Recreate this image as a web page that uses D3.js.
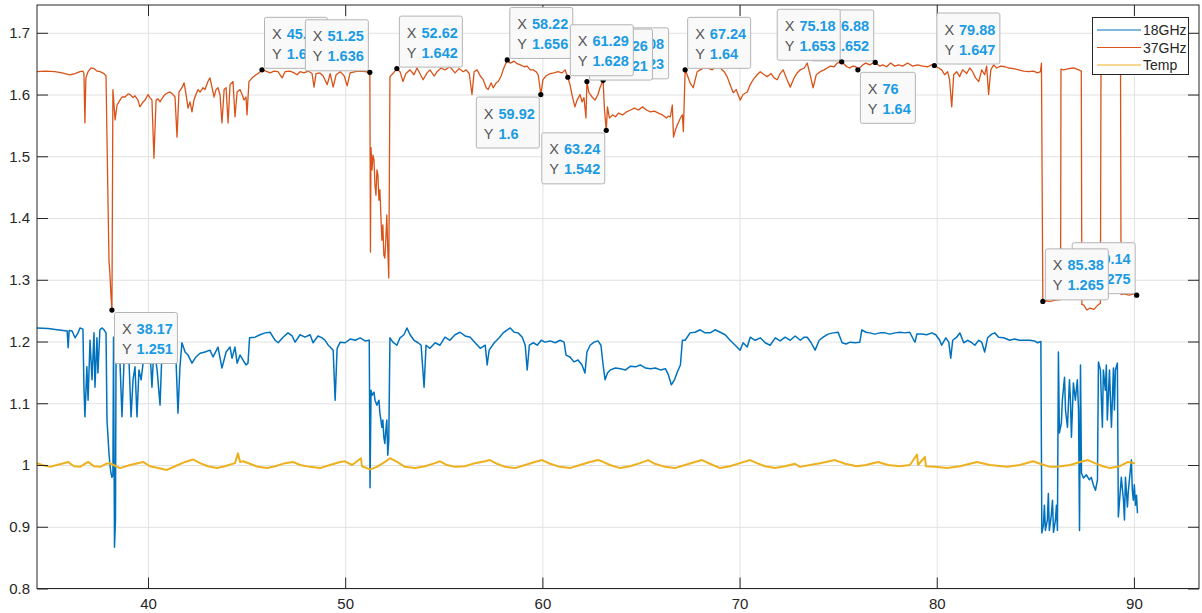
<!DOCTYPE html>
<html>
<head>
<meta charset="utf-8">
<script src="https://cdn.jsdelivr.net/npm/d3@7"></script>
<style>
	body { margin: 0; background: #fff; }
	svg { display: block; font-family: Arial, "Liberation Sans", sans-serif; }
</style>
</head>
<body>
<script>
// Series data, [x, value]
const ghz18 = [
	[34.37,1.222],[34.93,1.221],[35.39,1.219],[35.9,1.217],[35.95,1.19],[36.0,1.218],[36.15,1.217],[36.3,1.206],[36.45,1.214],[36.55,1.222],[36.7,1.22],
	[36.75,1.126],[36.8,1.078],[36.9,1.159],[36.96,1.105],[37.06,1.202],[37.16,1.138],[37.26,1.214],[37.31,1.126],[37.41,1.206],[37.46,1.149],[37.56,1.219],[37.67,1.222],[37.77,1.219],[37.87,1.214],[37.92,1.073],[38.02,1.019],[38.07,1.0],[38.12,0.987],[38.17,0.98],[38.22,0.984],[38.25,1.207],[38.3,0.867],[38.35,0.911],[38.38,1.191],
	[38.43,1.191],[38.58,1.165],[38.68,1.078],[38.78,1.165],[38.94,1.191],[39.04,1.165],[39.14,1.078],[39.24,1.138],[39.34,1.159],[39.44,1.078],[39.54,1.154],[39.65,1.138],[39.75,1.165],[39.9,1.175],[40.0,1.198],[40.1,1.186],[40.2,1.126],[40.3,1.191],[40.46,1.154],[40.61,1.097],[40.71,1.186],[40.86,1.191],[41.01,1.183],[41.22,1.191],[41.42,1.17],[41.52,1.084],[41.62,1.159],[41.72,1.198],[41.88,1.183],[42.03,1.178],[42.23,1.165],[42.43,1.175],[42.64,1.181],[42.89,1.183],[43.14,1.186],[43.3,1.175],[43.55,1.191],[43.75,1.157],[43.96,1.183],[44.16,1.191],[44.26,1.173],[44.41,1.191],[44.52,1.165],[44.67,1.178],[44.82,1.17],[44.97,1.162],[45.07,1.165],[45.15,1.206],
	[45.43,1.207],[45.68,1.211],[45.94,1.214],[46.19,1.215],[46.45,1.202],[46.6,1.198],[46.85,1.207],[47.1,1.214],[47.31,1.209],[47.46,1.199],[47.71,1.211],[47.96,1.207],[48.22,1.211],[48.37,1.198],[48.62,1.209],[48.83,1.206],[48.98,1.202],[49.14,1.194],[49.24,1.191],[49.39,1.186],[49.49,1.105],[49.59,1.189],[49.75,1.199],[50.0,1.198],[50.25,1.204],[50.51,1.202],[50.76,1.206],[51.01,1.201],[51.22,1.202],
	[51.26,0.963],[51.31,1.121],[51.36,1.113],[51.46,1.118],[51.51,1.105],[51.61,1.097],[51.71,1.105],[51.76,1.084],[51.81,1.073],[51.86,1.061],[51.91,1.073],[51.96,1.045],[52.01,1.035],[52.06,1.056],[52.11,1.073],[52.16,1.016],[52.21,1.04],[52.27,1.206],
	[52.42,1.199],[52.62,1.194],[52.78,1.206],[52.98,1.211],[53.13,1.222],[53.29,1.211],[53.49,1.202],[53.7,1.198],[53.85,1.194],[54.0,1.126],[54.1,1.194],[54.3,1.189],[54.56,1.198],[54.81,1.194],[55.06,1.207],[55.31,1.202],[55.57,1.211],[55.82,1.215],[56.08,1.209],[56.34,1.207],[56.59,1.198],[56.85,1.189],[57.1,1.194],[57.2,1.162],[57.3,1.186],[57.56,1.198],[57.81,1.206],[58.01,1.214],[58.22,1.219],[58.37,1.222],[58.57,1.215],[58.77,1.214],[58.98,1.207],[59.13,1.194],[59.23,1.154],[59.34,1.194],[59.54,1.198],[59.74,1.194],[59.94,1.202],[60.14,1.199],[60.39,1.201],[60.65,1.198],[60.9,1.202],[61.1,1.199],[61.2,1.178],[61.4,1.175],[61.6,1.167],[61.81,1.17],[62.01,1.162],[62.16,1.149],[62.26,1.183],[62.42,1.194],[62.62,1.199],[62.82,1.201],[62.97,1.194],[63.08,1.162],[63.18,1.138],[63.3,1.149],
	[63.45,1.154],[63.71,1.157],[63.96,1.156],[64.22,1.154],[64.47,1.16],[64.72,1.159],[64.97,1.162],[65.23,1.157],[65.48,1.156],[65.73,1.157],[65.98,1.154],[66.24,1.156],[66.39,1.146],[66.54,1.13],[66.7,1.138],[66.85,1.151],[67.0,1.162],[67.1,1.202],
	[67.24,1.202],[67.49,1.214],[67.75,1.215],[68.0,1.219],[68.25,1.214],[68.51,1.214],[68.76,1.219],[69.02,1.215],[69.27,1.211],[69.52,1.202],[69.78,1.194],[70.03,1.186],[70.18,1.198],[70.39,1.191],[70.54,1.207],[70.79,1.202],[71.05,1.206],[71.3,1.198],[71.55,1.194],[71.81,1.206],[72.06,1.201],[72.31,1.207],[72.57,1.202],[72.82,1.209],[73.08,1.202],[73.28,1.207],[73.43,1.207],[73.63,1.198],[73.83,1.186],[74.04,1.202],[74.24,1.207],[74.49,1.212],[74.75,1.214],[75.0,1.215],[75.2,1.198],[75.4,1.196],[75.61,1.199],[75.86,1.198],[76.1,1.199],[76.2,1.219],[76.41,1.215],[76.61,1.214],[76.86,1.212],[77.12,1.214],[77.37,1.214],[77.62,1.212],[77.88,1.214],[78.13,1.215],[78.38,1.214],[78.63,1.215],[78.84,1.202],[78.9,1.199],[78.99,1.212],[79.24,1.212],[79.49,1.211],[79.75,1.214],[79.95,1.211],[80.15,1.202],[80.25,1.194],[80.46,1.206],[80.61,1.199],[80.71,1.173],[80.81,1.202],[81.01,1.207],[81.17,1.214],[81.37,1.198],[81.57,1.202],[81.78,1.198],[81.93,1.194],[82.13,1.202],[82.28,1.199],[82.43,1.183],[82.58,1.206],[82.79,1.212],[82.94,1.214],[83.14,1.207],[83.39,1.206],[83.7,1.202],[83.95,1.204],[84.2,1.202],[84.46,1.202],[84.71,1.202],[84.96,1.201],[85.11,1.198],[85.28,1.2],
	[85.33,0.89],[85.41,0.903],[85.46,0.935],[85.51,0.894],[85.61,0.911],[85.66,0.954],[85.71,0.894],[85.81,0.919],[85.87,0.943],[85.92,0.891],[86.02,0.911],[86.07,0.935],[86.12,0.894],[86.17,1.183],[86.22,1.052],[86.32,1.068],[86.37,1.105],[86.48,1.142],[86.53,1.089],[86.63,1.061],[86.73,1.138],[86.78,1.105],[86.83,1.045],[86.93,1.133],[87.03,1.105],[87.13,1.138],[87.19,1.089],[87.24,0.894],[87.29,1.162],[87.34,0.987],[87.44,0.979],[87.59,0.984],[87.74,0.976],[87.84,0.98],[87.94,0.968],[88.05,0.959],[88.15,0.976],[88.2,1.167],[88.3,1.154],[88.35,1.105],[88.4,1.061],[88.45,1.154],[88.55,1.121],[88.6,1.162],[88.65,1.073],[88.76,1.154],[88.81,1.105],[88.86,1.061],[88.96,1.157],[89.01,1.089],[89.06,1.154],[89.16,1.165],[89.21,0.916],[89.31,0.959],[89.36,0.98],[89.47,0.943],[89.52,0.911],[89.57,0.98],[89.67,0.932],[89.72,0.959],[89.77,0.976],[89.87,1.008],[89.92,0.959],[89.97,0.943],[90.02,0.968],[90.08,0.935],[90.13,0.951],[90.18,0.922]
];

const ghz37 = [
	[34.37,1.637],[34.78,1.638],[35.28,1.637],[35.64,1.635],[36.04,1.632],[36.3,1.634],[36.55,1.637],[36.7,1.638],[36.75,1.634],[36.8,1.554],[36.85,1.627],[36.96,1.637],[37.11,1.643],[37.26,1.642],[37.41,1.638],[37.57,1.637],[37.77,1.634],[37.87,1.63],
	[37.92,1.527],[37.97,1.429],[38.02,1.332],[38.07,1.308],[38.12,1.275],[38.17,1.251],
	[38.22,1.608],[38.33,1.559],[38.43,1.583],[38.58,1.591],[38.68,1.596],[38.83,1.596],[38.99,1.601],[39.09,1.6],[39.24,1.595],[39.34,1.598],[39.49,1.591],[39.59,1.58],[39.75,1.588],[39.85,1.591],[40.0,1.6],[40.1,1.595],[40.2,1.591],[40.3,1.497],[40.41,1.591],[40.51,1.593],[40.61,1.588],[40.76,1.596],[40.86,1.6],[41.01,1.603],[41.12,1.604],[41.27,1.6],[41.37,1.596],[41.47,1.531],[41.57,1.604],[41.72,1.611],[41.83,1.619],[41.93,1.6],[42.03,1.578],[42.13,1.588],[42.23,1.572],[42.33,1.591],[42.43,1.6],[42.54,1.608],[42.64,1.604],[42.79,1.611],[42.89,1.608],[43.04,1.621],[43.14,1.627],[43.25,1.611],[43.35,1.596],[43.45,1.608],[43.55,1.611],[43.65,1.6],[43.75,1.554],[43.86,1.608],[43.96,1.611],[44.06,1.554],[44.16,1.616],[44.31,1.621],[44.41,1.564],[44.52,1.604],[44.67,1.608],[44.77,1.6],[44.87,1.591],[44.97,1.596],[45.02,1.567],[45.12,1.621],[45.28,1.627],[45.48,1.632],[45.63,1.635],[45.78,1.64],
	[45.98,1.638],[46.19,1.635],[46.39,1.638],[46.59,1.637],[46.8,1.627],[46.95,1.637],[47.2,1.638],[47.41,1.635],[47.56,1.632],[47.71,1.637],[47.91,1.635],[48.12,1.638],[48.32,1.634],[48.42,1.612],[48.52,1.634],[48.72,1.635],[48.88,1.63],[49.09,1.616],[49.24,1.634],[49.39,1.612],[49.54,1.632],[49.75,1.637],[49.95,1.63],[50.1,1.614],[50.25,1.635],[50.51,1.637],[50.76,1.638],[51.01,1.637],[51.25,1.636],
	[51.28,1.345],[51.31,1.514],[51.36,1.478],[51.41,1.502],[51.46,1.494],[51.51,1.453],[51.56,1.437],[51.61,1.478],[51.66,1.47],[51.71,1.429],[51.76,1.446],[51.81,1.405],[51.86,1.364],[51.91,1.389],[51.96,1.34],[52.01,1.335],[52.06,1.364],[52.11,1.405],[52.16,1.348],[52.21,1.303],[52.27,1.629],
	[52.42,1.634],[52.62,1.642],[52.78,1.637],[52.93,1.621],[53.08,1.634],[53.29,1.64],[53.49,1.632],[53.64,1.643],[53.79,1.634],[53.95,1.624],[54.15,1.635],[54.3,1.64],[54.51,1.63],[54.66,1.637],[54.86,1.643],[55.06,1.64],[55.31,1.645],[55.57,1.635],[55.77,1.642],[55.98,1.637],[56.13,1.64],[56.29,1.634],[56.43,1.6],[56.54,1.637],[56.69,1.64],[56.85,1.63],[57.0,1.624],[57.15,1.611],[57.25,1.608],[57.4,1.619],[57.51,1.611],[57.66,1.619],[57.76,1.621],[57.91,1.63],[58.01,1.64],[58.11,1.648],[58.22,1.656],[58.37,1.651],[58.57,1.654],[58.72,1.65],[58.88,1.648],[59.08,1.645],[59.23,1.646],[59.38,1.64],[59.53,1.64],[59.68,1.637],[59.79,1.632],[59.92,1.6],
	[60.03,1.624],[60.18,1.63],[60.39,1.634],[60.59,1.635],[60.79,1.637],[61.0,1.635],[61.15,1.64],[61.29,1.628],[61.4,1.616],[61.5,1.6],[61.65,1.58],[61.76,1.591],[61.91,1.6],[62.01,1.588],[62.11,1.595],[62.21,1.562],[62.26,1.621],[62.36,1.603],[62.52,1.596],[62.67,1.591],[62.82,1.6],[62.92,1.611],[63.08,1.623],[63.15,1.575],[63.24,1.542],
	[63.3,1.58],[63.4,1.562],[63.56,1.567],[63.71,1.564],[63.86,1.57],[64.07,1.567],[64.27,1.572],[64.47,1.575],[64.67,1.578],[64.87,1.575],[65.08,1.58],[65.28,1.575],[65.48,1.572],[65.68,1.573],[65.88,1.57],[66.09,1.567],[66.29,1.562],[66.39,1.565],[66.49,1.564],[66.59,1.583],[66.65,1.531],[66.75,1.543],[66.85,1.551],[67.0,1.562],[67.1,1.567],[67.15,1.54],[67.24,1.64],
	[67.34,1.632],[67.49,1.619],[67.65,1.611],[67.85,1.637],[68.0,1.64],[68.2,1.643],[68.36,1.643],[68.61,1.64],[68.81,1.645],[69.02,1.643],[69.22,1.637],[69.37,1.629],[69.52,1.616],[69.68,1.603],[69.83,1.608],[70.03,1.591],[70.18,1.6],[70.39,1.604],[70.54,1.616],[70.69,1.624],[70.89,1.632],[71.05,1.637],[71.25,1.632],[71.4,1.629],[71.6,1.634],[71.75,1.627],[71.91,1.624],[72.06,1.634],[72.21,1.64],[72.41,1.624],[72.57,1.612],[72.77,1.627],[72.92,1.635],[73.08,1.64],[73.28,1.643],[73.43,1.651],[73.58,1.632],[73.73,1.611],[73.89,1.632],[74.09,1.637],[74.29,1.64],[74.44,1.643],[74.6,1.646],[74.8,1.645],[74.95,1.651],[75.18,1.653],
	[75.44,1.645],[75.59,1.643],[75.74,1.646],[75.9,1.645],[76.0,1.64],[76.25,1.648],[76.4,1.651],[76.61,1.648],[76.76,1.651],[76.88,1.652],[77.1,1.646],[77.26,1.648],[77.46,1.645],[77.66,1.651],[77.87,1.646],[78.07,1.648],[78.27,1.646],[78.52,1.651],[78.78,1.646],[79.03,1.648],[79.29,1.646],[79.54,1.645],[79.74,1.648],[79.88,1.647],[80.1,1.643],[80.25,1.64],[80.4,1.632],[80.55,1.637],[80.65,1.624],[80.76,1.58],[80.86,1.632],[81.01,1.637],[81.16,1.629],[81.31,1.64],[81.52,1.634],[81.67,1.643],[81.82,1.637],[81.97,1.627],[82.13,1.621],[82.28,1.64],[82.43,1.632],[82.53,1.646],[82.63,1.6],[82.74,1.64],[82.89,1.648],[83.04,1.643],[83.24,1.646],[83.45,1.645],[83.65,1.643],[83.9,1.642],[84.15,1.64],[84.41,1.638],[84.66,1.637],[84.91,1.638],[85.11,1.635],[85.26,1.637],[85.31,1.651],[85.38,1.265],
	[85.5,1.266],[85.75,1.265],[86.05,1.267],[86.28,1.268],[86.3,1.641],[86.44,1.64],[86.69,1.642],[86.95,1.643],[87.2,1.64],[87.33,1.638],[87.36,1.26],[87.46,1.259],[87.61,1.251],[87.77,1.254],[87.97,1.252],[88.17,1.259],[88.3,1.262],[88.33,1.645],[88.73,1.646],[89.24,1.647],[89.32,1.645],[89.35,1.276],[89.49,1.277],[89.75,1.275],[90.0,1.277],[90.14,1.275]
];

const temp = [
	[34.37,1.003],[34.63,1.0],[35.03,0.997],[35.38,1.0],[35.63,1.002],[35.94,1.005],[36.25,0.998],[36.55,0.997],[36.96,1.005],[37.26,0.998],[37.57,0.997],[37.87,1.002],[38.07,1.003],[38.38,0.998],[38.58,0.995],[39.09,1.0],[39.75,1.005],[40.1,0.998],[40.51,0.995],[40.96,0.992],[41.37,0.998],[41.88,1.005],[42.28,1.009],[42.64,1.003],[43.04,0.998],[43.5,0.995],[43.9,0.998],[44.41,1.003],[44.56,1.019],[44.67,1.005],[44.82,1.006],[45.17,1.002],[45.58,0.997],[46.04,0.995],[46.45,0.998],[46.95,1.003],[47.35,1.005],[47.71,1.0],[48.22,0.997],[48.72,0.995],[49.23,1.0],[49.74,1.005],[49.99,1.006],[50.35,1.0],[50.8,1.011],[50.85,0.998],[51.26,0.993],[51.61,0.997],[52.02,1.005],[52.27,1.011],[52.63,1.005],[53.03,0.997],[53.54,0.995],[54.05,0.998],[54.55,1.003],[54.81,1.006],[55.16,1.0],[55.57,0.997],[56.07,0.998],[56.58,1.003],[57.09,1.006],[57.34,1.008],[57.7,1.002],[58.1,0.997],[58.61,0.995],[59.12,1.0],[59.62,1.005],[59.98,1.008],[60.39,1.002],[60.89,0.997],[61.4,0.995],[61.91,1.0],[62.41,1.005],[62.82,1.008],[63.02,1.006],[63.43,1.0],[63.94,0.995],[64.44,0.998],[64.95,1.003],[65.36,1.008],[65.71,1.002],[66.22,0.997],[66.72,0.995],[67.23,1.0],[67.74,1.005],[68.09,1.008],[68.5,1.002],[69.01,0.995],[69.51,0.998],[70.02,1.003],[70.53,1.008],[70.88,1.003],[71.29,0.998],[71.79,0.995],[72.3,0.998],[72.81,1.002],[73.06,0.997],[73.57,1.0],[74.08,1.003],[74.84,1.008],[75.35,1.002],[75.95,0.998],[76.41,1.0],[77.02,1.005],[77.53,1.0],[78.13,0.998],[78.64,1.0],[79.0,1.017],[79.05,1.0],[79.4,1.013],[79.45,0.998],[79.91,0.997],[80.52,0.995],[81.18,0.998],[82.04,1.005],[82.7,1.0],[83.56,0.997],[84.22,1.0],[84.88,1.006],[85.24,1.002],[85.75,0.997],[86.1,0.997],[86.76,1.0],[87.27,1.005],[87.67,1.008],[88.02,1.003],[88.43,0.998],[88.78,0.995],[89.29,0.998],[89.7,1.005],[90.05,1.003]
];

const seriesNames = ["18GHz", "37GHz", "Temp"];
const seriesColors = ["#0072BD", "#D95319", "#EDB120"];
const seriesWidths = [1.5, 1.3, 2];

const xTicks = [40, 50, 60, 70, 80, 90];
const yTicks = [0.8, 0.9, 1, 1.1, 1.2, 1.3, 1.4, 1.5, 1.6, 1.7];

// Data tips, listed back to front
const tipX = [45.78, 51.25, 52.62, 58.22, 59.92, 63.08, 62.26, 61.29, 63.24, 67.24, 76.88, 75.18, 76, 79.88, 90.14, 85.38, 38.17];
const tipY = [1.64, 1.636, 1.642, 1.656, 1.6, 1.623, 1.621, 1.628, 1.542, 1.64, 1.652, 1.653, 1.64, 1.647, 1.275, 1.265, 1.251];
const tipPlace = ["ur", "ul", "ur", "ur", "ll", "ur", "ur", "ur", "ll", "ur", "ul", "ul", "lr", "ur", "ul", "ur", "lr"];

const width = 1202;
const height = 613;
const plotLeft = 37, plotRight = 1199, plotTop = 5, plotBottom = 588.5;

const x = d3.scaleLinear().domain([34.37, 93.3]).range([plotLeft, plotRight]);
const y = d3.scaleLinear().domain([0.8, 1.745]).range([plotBottom, plotTop]);

const svg = d3.select("body").append("svg").attr("width", width).attr("height", height);

svg.append("defs").append("clipPath").attr("id", "plot-clip")
	.append("rect").attr("x", plotLeft).attr("y", plotTop).attr("width", plotRight - plotLeft).attr("height", plotBottom - plotTop);

// Grid
svg.append("g")
	.attr("transform", `translate(0,${plotBottom})`)
	.call(d3.axisBottom(x).tickValues(xTicks).tickSize(-(plotBottom - plotTop)).tickFormat(""))
	.call((g) => g.select(".domain").remove())
	.call((g) => g.selectAll("line").attr("stroke", "#e2e2e2"));

svg.append("g")
	.attr("transform", `translate(${plotLeft},0)`)
	.call(d3.axisLeft(y).tickValues(yTicks).tickSize(-(plotRight - plotLeft)).tickFormat(""))
	.call((g) => g.select(".domain").remove())
	.call((g) => g.selectAll("line").attr("stroke", "#e2e2e2"));

// Lines
const line = d3.line().x((d) => x(d[0])).y((d) => y(d[1]));
const plot = svg.append("g").attr("clip-path", "url(#plot-clip)");
[ghz18, ghz37, temp].forEach((series, i) => {
	plot.append("path")
		.datum(series)
		.attr("fill", "none")
		.attr("stroke", seriesColors[i])
		.attr("stroke-width", seriesWidths[i])
		.attr("stroke-linejoin", "round")
		.attr("d", line);
});

// Axes with ticks pointing inward, box on all sides
const axisColor = "#262626";
function styleAxis(g) {
	g.select(".domain").remove();
	g.selectAll("line").attr("stroke", axisColor);
	g.selectAll("text").attr("fill", axisColor).attr("font-size", 15).attr("font-family", "Arial, 'Liberation Sans', sans-serif");
}

svg.append("g")
	.attr("transform", `translate(0,${plotBottom})`)
	.call(d3.axisBottom(x).tickValues(xTicks).tickSizeInner(-11).tickSizeOuter(0).tickPadding(10))
	.call(styleAxis);

svg.append("g")
	.attr("transform", `translate(${plotLeft},0)`)
	.call(d3.axisLeft(y).tickValues(yTicks).tickSizeInner(-11).tickSizeOuter(0).tickPadding(7).tickFormat((d) => String(d)))
	.call(styleAxis);

svg.append("g")
	.attr("transform", `translate(0,${plotTop})`)
	.call(d3.axisTop(x).tickValues(xTicks).tickSizeInner(-11).tickSizeOuter(0).tickFormat(""))
	.call(styleAxis);

svg.append("g")
	.attr("transform", `translate(${plotRight},0)`)
	.call(d3.axisRight(y).tickValues(yTicks).tickSizeInner(-11).tickSizeOuter(0).tickFormat(""))
	.call(styleAxis);

svg.append("rect")
	.attr("x", plotLeft).attr("y", plotTop)
	.attr("width", plotRight - plotLeft).attr("height", plotBottom - plotTop)
	.attr("fill", "none").attr("stroke", axisColor).attr("stroke-width", 1);

// Data tips
const tips = svg.append("g").attr("font-size", 14.5);
tipX.forEach((tx, i) => {
	const px = x(tx);
	const py = y(tipY[i]);
	const g = tips.append("g");
	const box = g.append("rect");
	const rows = [["X", tx], ["Y", tipY[i]]];
	const texts = rows.map((r) => {
		const t = g.append("text");
		t.append("tspan").attr("fill", "#555").text(r[0]);
		t.append("tspan").attr("dx", 5).attr("fill", "#1b9be3").attr("font-weight", "bold").text(String(r[1]));
		return t;
	});
	const w = Math.ceil(d3.max(texts, (t) => t.node().getComputedTextLength())) + 17;
	const h = 51;
	const bx = tipPlace[i][1] === "r" ? px + 2 : px - 2 - w;
	const by = tipPlace[i][0] === "u" ? py - 2 - h : py + 2;
	box.attr("x", bx + 0.5).attr("y", by + 0.5).attr("width", w).attr("height", h)
		.attr("rx", 2)
		.attr("fill", "#f9f9f9")
		.attr("stroke", "#b4b4b4");
	texts[0].attr("x", bx + 8).attr("y", by + 22);
	texts[1].attr("x", bx + 8).attr("y", by + 42);
	g.append("circle").attr("cx", px).attr("cy", py).attr("r", 2.6).attr("fill", "#000");
});

// Legend
const legend = svg.append("g").attr("font-size", 14);
legend.append("rect")
	.attr("x", 1092.5).attr("y", 17.5).attr("width", 96).attr("height", 57)
	.attr("fill", "#fff").attr("stroke", axisColor);
seriesNames.forEach((name, i) => {
	const ly = 30 + i * 17.5;
	legend.append("line")
		.attr("x1", 1097).attr("x2", 1141).attr("y1", ly).attr("y2", ly)
		.attr("stroke", seriesColors[i]).attr("stroke-width", 1.2);
	legend.append("text")
		.attr("x", 1143).attr("y", ly + 5)
		.attr("fill", axisColor)
		.text(name);
});
</script>
</body>
</html>
